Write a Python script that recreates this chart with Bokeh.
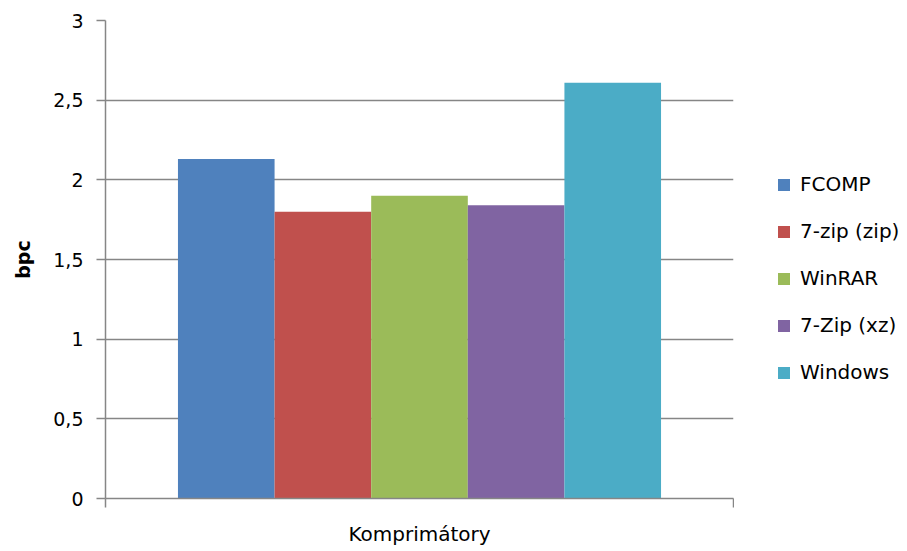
from bokeh.plotting import figure
from bokeh.layouts import row
from bokeh.models import Range1d, FixedTicker, Legend, LegendItem, ColumnDataSource
from bokeh.embed import file_html
from bokeh.resources import INLINE

# ---- data ----
category = "Komprimátory"
series_names = ["FCOMP", "7-zip (zip)", "WinRAR", "7-Zip (xz)", "Windows"]
series_values = [2.13, 1.80, 1.90, 1.84, 2.61]
series_colors = ["#4F81BD", "#C0504D", "#9BBB59", "#8064A2", "#4BACC6"]
y_ticks = [0, 0.5, 1, 1.5, 2, 2.5, 3]
y_tick_labels = ["0", "0,5", "1", "1,5", "2", "2,5", "3"]
y_title = "bpc"

FONT = "DejaVu Sans"
FS = "20px"
AXIS_GRAY = "#868686"
gap_width = 1.5  # Excel-style gap width (fraction of bar width)
n = len(series_names)
bar_w = 1.0 / (n + gap_width)

p = figure(width=734, height=551, output_backend="svg", toolbar_location=None,
           x_range=Range1d(0, 1), y_range=Range1d(0, 3),
           min_border_left=105, min_border_right=1, min_border_top=20,
           min_border_bottom=53)
p.outline_line_color = None
p.background_fill_color = "white"
p.border_fill_color = "white"

sources = []
for i, (name, val, col) in enumerate(zip(series_names, series_values, series_colors)):
    src = ColumnDataSource(dict(x=[0.5 + (i - (n - 1) / 2) * bar_w], top=[val]))
    sources.append(src)
    p.vbar(x="x", top="top", bottom=0, width=bar_w, source=src,
           fill_color=col, line_color=None)

# grid
p.xgrid.grid_line_color = None
p.ygrid.grid_line_color = AXIS_GRAY
p.ygrid.grid_line_width = 1.5
p.ygrid.ticker = FixedTicker(ticks=y_ticks)

# y axis
ya = p.yaxis[0]
ya.ticker = FixedTicker(ticks=y_ticks)
ya.major_label_overrides = {float(t): l for t, l in zip(y_ticks, y_tick_labels)}
ya.axis_line_color = AXIS_GRAY
ya.axis_line_width = 1.5
ya.major_tick_line_color = AXIS_GRAY
ya.major_tick_line_width = 1.5
ya.major_tick_in = 0
ya.major_tick_out = 9
ya.minor_tick_line_color = None
ya.major_label_text_font = FONT
ya.major_label_text_font_size = "19px"
ya.major_label_text_color = "black"
ya.major_label_standoff = 13
ya.axis_label = y_title
ya.axis_label_text_font = FONT
ya.axis_label_text_font_style = "bold"
ya.axis_label_text_font_size = "19px"
ya.axis_label_text_color = "black"
ya.axis_label_standoff = 16

# x axis
xa = p.xaxis[0]
xa.ticker = FixedTicker(ticks=[0, 1])
xa.major_label_overrides = {0.0: "", 1.0: ""}
xa.major_label_text_font_size = "19px"
xa.axis_line_color = AXIS_GRAY
xa.axis_line_width = 1.5
xa.major_tick_line_color = AXIS_GRAY
xa.major_tick_line_width = 1.5
xa.major_tick_in = 0
xa.major_tick_out = 9
xa.minor_tick_line_color = None
xa.axis_label = category
xa.axis_label_text_font = FONT
xa.axis_label_text_font_style = "normal"
xa.axis_label_text_font_size = FS
xa.axis_label_text_color = "black"
xa.axis_label_standoff = 14

# legend panel (separate figure to the right)
pl = figure(width=173, height=551, output_backend="svg", toolbar_location=None,
            x_range=Range1d(0, 1), y_range=Range1d(0, 3),
            x_axis_location=None, y_axis_location=None, min_border=0)
pl.outline_line_color = None
pl.grid.grid_line_color = None
items = []
for name, col, src in zip(series_names, series_colors, sources):
    r = pl.vbar(x="x", top="top", bottom=0, width=bar_w, source=src,
                fill_color=col, line_color=None, visible=False)
    items.append(LegendItem(label=name, renderers=[r]))

legend = Legend(items=items, location=(42, 114), orientation="vertical",
                glyph_width=15, glyph_height=15, label_standoff=9,
                label_text_font=FONT, label_text_font_size=FS,
                label_text_color="black", label_height=20, spacing=23,
                padding=0, margin=0, border_line_color=None,
                background_fill_alpha=0)
pl.add_layout(legend)

layout = row(p, pl, spacing=0)
open("out.html", "w").write(file_html(layout, INLINE))
